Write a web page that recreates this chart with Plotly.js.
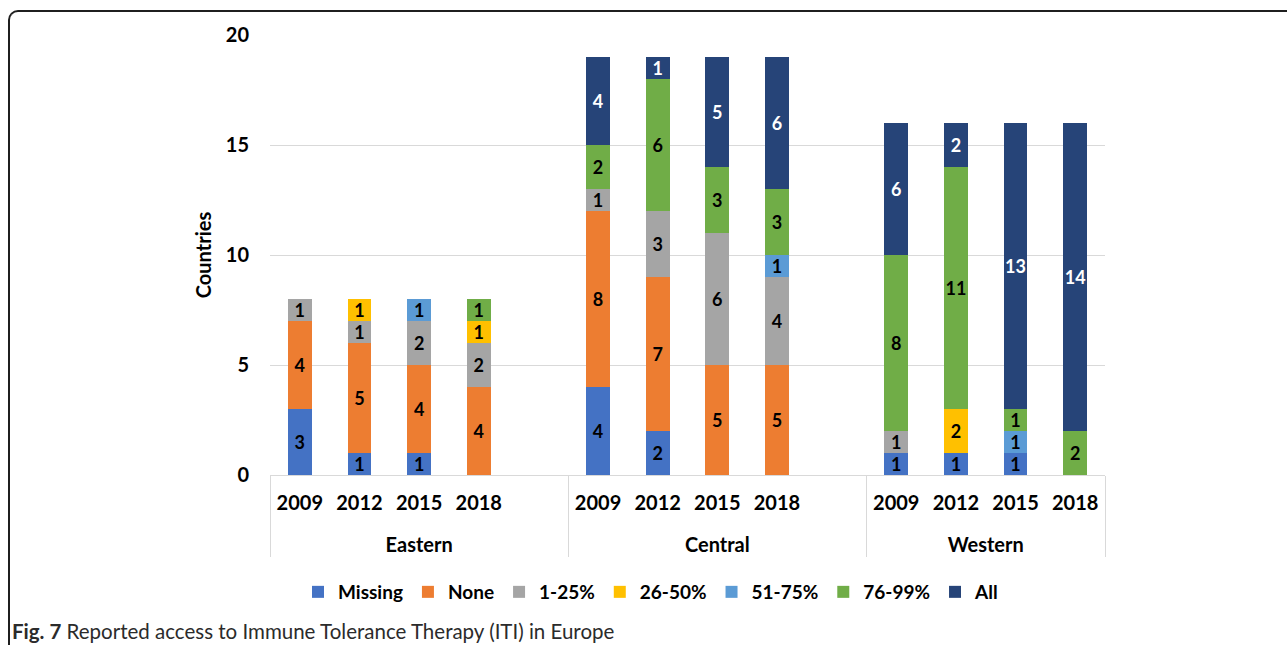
<!DOCTYPE html>
<html><head><meta charset="utf-8">
<script src="https://cdn.plot.ly/plotly-3.0.1.min.js"></script>
<style>
html,body{margin:0;padding:0;overflow:hidden;background:#fff;}
#wrap{position:relative;width:1287px;height:645px;overflow:hidden;}
#chart{width:1287px;height:645px;}
#frame{position:absolute;left:8px;top:10px;width:1320px;height:720px;border-top:2px solid #1f1f1f;border-left:2px solid #1f1f1f;border-top-left-radius:10px;pointer-events:none;box-sizing:border-box;}
</style></head>
<body><div id="wrap"><div id="chart"></div><div id="frame"></div></div>
<script>
// Categories
const regionNames = ["Eastern", "Central", "Western"];
const years = ["2009", "2012", "2015", "2018"];
// Series values, ordered Eastern 2009..2018, Central 2009..2018, Western 2009..2018
const missing  = [3, 1, 1, null,   4, 2, null, null,   1, 1, 1, null];
const none     = [4, 5, 4, 4,      8, 7, 5, 5,         null, null, null, null];
const pct1_25  = [1, 1, 2, 2,      1, 3, 6, 4,         1, null, null, null];
const pct26_50 = [null, 1, null, 1, null, null, null, null, null, 2, null, null];
const pct51_75 = [null, null, 1, null, null, null, null, 1, null, null, 1, null];
const pct76_99 = [null, null, null, 1, 2, 6, 3, 3,     8, 11, 1, 2];
const allAcc   = [null, null, null, null, 4, 1, 5, 6,  6, 2, 13, 14];
const seriesNames = ["Missing", "None", "1-25%", "26-50%", "51-75%", "76-99%", "All"];

const seriesValues = [missing, none, pct1_25, pct26_50, pct51_75, pct76_99, allAcc];
const colors = ["#4472C4", "#ED7D31", "#A5A5A5", "#FFC000", "#5B9BD5", "#70AD47", "#264478"];
const textColors = ["#000", "#000", "#000", "#000", "#000", "#000", "#fff"];
const FONT = "Lato, 'Open Sans', sans-serif";

// Build multicategory x with a blank spacer slot after Eastern and Central.
// Group labels get an empty first line so they sit lower, as in the reference.
function buildXY(vals) {
  const lvl1 = [], lvl2 = [], y = [];
  regionNames.forEach((r, ri) => {
    const groupLabel = "<br>" + r;
    years.forEach((yr, yi) => {
      lvl1.push(groupLabel); lvl2.push(yr); y.push(vals[ri * years.length + yi]);
    });
    if (ri < regionNames.length - 1) { lvl1.push(groupLabel); lvl2.push(" "); y.push(null); }
  });
  return { x: [lvl1, lvl2], y };
}

const traces = seriesNames.map((name, i) => {
  const d = buildXY(seriesValues[i]);
  return {
    type: "bar", name, x: d.x, y: d.y,
    marker: { color: colors[i], line: { width: 0 } },
    texttemplate: "%{y}", textposition: "inside", insidetextanchor: "middle",
    textangle: 0, constraintext: "none",
    textfont: { family: FONT, size: 18, color: textColors[i], weight: "bold" },
    hoverinfo: "skip"
  };
});

const layout = {
  width: 1287, height: 645,
  margin: { l: 270, r: 182, t: 35, b: 170 },
  paper_bgcolor: "#fff", plot_bgcolor: "#fff",
  barmode: "stack", bargap: 0.6,
  font: { family: FONT, color: "#000" },
  xaxis: {
    type: "multicategory", showline: true, linecolor: "#d9d9d9", linewidth: 1,
    showgrid: false, ticks: "", showdividers: true, dividercolor: "#d9d9d9", dividerwidth: 1,
    ticklabelstandoff: 10,
    tickfont: { family: FONT, size: 20, color: "#000", weight: "bold" },
    fixedrange: true
  },
  yaxis: {
    range: [0, 20], dtick: 5, tick0: 0, showline: false, zeroline: false,
    gridcolor: "#d9d9d9", gridwidth: 1, ticks: "", ticklabelstandoff: 20,
    tickfont: { family: FONT, size: 20, color: "#000", weight: "bold" },
    title: { text: "Countries", standoff: 8, font: { family: FONT, size: 20, color: "#000", weight: "bold" } },
    fixedrange: true
  },
  legend: {
    orientation: "h", traceorder: "normal", x: (298 - 270) / 835, xanchor: "left",
    y: (475 - 592) / 440, yanchor: "middle",
    font: { family: FONT, size: 19, color: "#000", weight: "bold" },
    itemclick: false, itemdoubleclick: false
  },
  annotations: [{
    xref: "paper", yref: "paper", x: (10 - 270) / 835, y: (475 - 631) / 440,
    xanchor: "left", yanchor: "middle", showarrow: false, align: "left",
    text: "<b>Fig. 7</b> Reported access to Immune Tolerance Therapy (ITI) in Europe",
    font: { family: FONT, size: 20.5, color: "#2b2b2b" }
  }],
  showlegend: true
};

Plotly.newPlot("chart", traces, layout, { displayModeBar: false, staticPlot: true });
</script>
</body></html>
